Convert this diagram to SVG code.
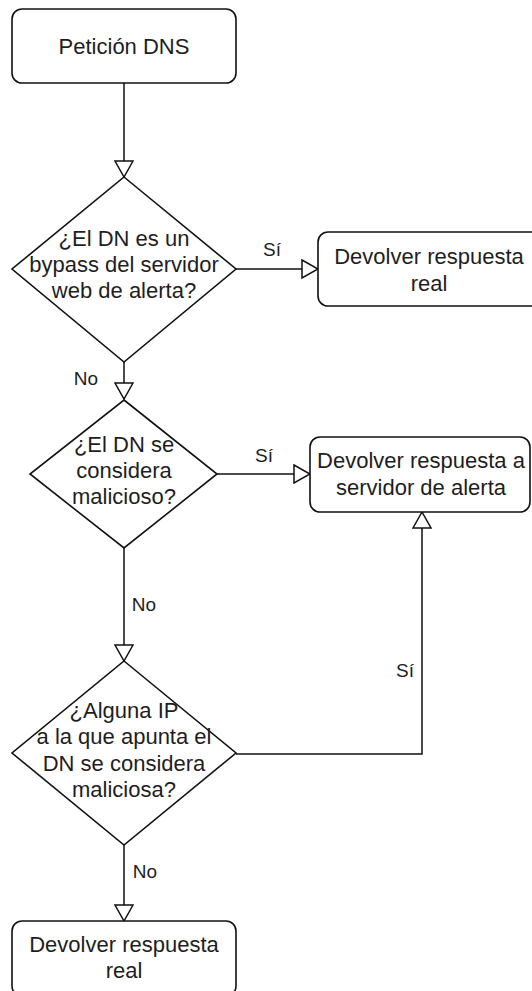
<svg xmlns="http://www.w3.org/2000/svg" width="532" height="991" viewBox="0 0 532 991">
  <style>
    .shape { fill: #ffffff; stroke: #111111; stroke-width: 1.6; }
    .edge { fill: none; stroke: #111111; stroke-width: 1.5; }
    .label { font-family: "Liberation Sans", Arial, sans-serif; font-size: 22px; fill: #1e1e1e; text-anchor: middle; }
    .elabel { font-family: "Liberation Sans", Arial, sans-serif; font-size: 19px; fill: #1e1e1e; text-anchor: middle; }
  </style>
  <defs>
    <marker id="open-arrow" viewBox="0 0 18 20" refX="17" refY="10" markerWidth="18" markerHeight="20" markerUnits="userSpaceOnUse" orient="auto">
      <path d="M1,1 L17,10 L1,19 Z" fill="#ffffff" stroke="#111111" stroke-width="1.5"/>
    </marker>
  </defs>

  <rect width="532" height="991" fill="#ffffff"/>

  <!-- connectors -->
  <g id="connectors">
    <path class="edge" d="M124,83 L124,177" marker-end="url(#open-arrow)"/>
    <path class="edge" d="M236,269 L318,269" marker-end="url(#open-arrow)"/>
    <text class="elabel" x="272" y="256">Sí</text>
    <path class="edge" d="M124,362 L124,399" marker-end="url(#open-arrow)"/>
    <text class="elabel" x="86" y="385">No</text>
    <path class="edge" d="M217,474 L310,474" marker-end="url(#open-arrow)"/>
    <text class="elabel" x="264" y="462">Sí</text>
    <path class="edge" d="M124,548 L124,661" marker-end="url(#open-arrow)"/>
    <text class="elabel" x="144" y="611">No</text>
    <path class="edge" d="M236,754 L422,754 L422,512" marker-end="url(#open-arrow)"/>
    <text class="elabel" x="405" y="677">Sí</text>
    <path class="edge" d="M124,845 L124,921" marker-end="url(#open-arrow)"/>
    <text class="elabel" x="145" y="878">No</text>
  </g>

  <!-- start node -->
  <g id="start">
    <rect class="shape" x="12" y="9" width="224" height="74" rx="10" ry="10"/>
    <text class="label" x="124" y="54">Petición DNS</text>
  </g>

  <!-- decision: bypass domain -->
  <g id="is-bypass">
    <polygon class="shape" points="124,177 236,269 124,362 12,269"/>
    <text class="label" x="124" y="246">¿El DN es un</text>
    <text class="label" x="124" y="272">bypass del servidor</text>
    <text class="label" x="124" y="298">web de alerta?</text>
  </g>

  <!-- real answer (bypass) -->
  <g id="real-answer-bypass">
    <rect class="shape" x="318" y="232" width="224" height="74" rx="10" ry="10"/>
    <text class="label" x="429" y="264">Devolver respuesta</text>
    <text class="label" x="429" y="291">real</text>
  </g>

  <!-- decision: malicious domain -->
  <g id="is-malicious-domain">
    <polygon class="shape" points="124,400 217,474 124,548 30,474"/>
    <text class="label" x="124" y="452">¿El DN se</text>
    <text class="label" x="124" y="478">considera</text>
    <text class="label" x="124" y="504">malicioso?</text>
  </g>

  <!-- alert server answer -->
  <g id="alert-answer">
    <rect class="shape" x="310" y="437" width="220" height="75" rx="10" ry="10"/>
    <text class="label" x="421" y="468">Devolver respuesta a</text>
    <text class="label" x="421" y="495">servidor de alerta</text>
  </g>

  <!-- decision: malicious IP -->
  <g id="is-malicious-ip">
    <polygon class="shape" points="124,661 236,753 124,845 12,753"/>
    <text class="label" x="124" y="718">¿Alguna IP</text>
    <text class="label" x="124" y="744">a la que apunta el</text>
    <text class="label" x="124" y="771">DN se considera</text>
    <text class="label" x="124" y="797">maliciosa?</text>
  </g>

  <!-- real answer (default) -->
  <g id="real-answer">
    <rect class="shape" x="12" y="921" width="224" height="75" rx="10" ry="10"/>
    <text class="label" x="124" y="952">Devolver respuesta</text>
    <text class="label" x="124" y="978">real</text>
  </g>
</svg>
